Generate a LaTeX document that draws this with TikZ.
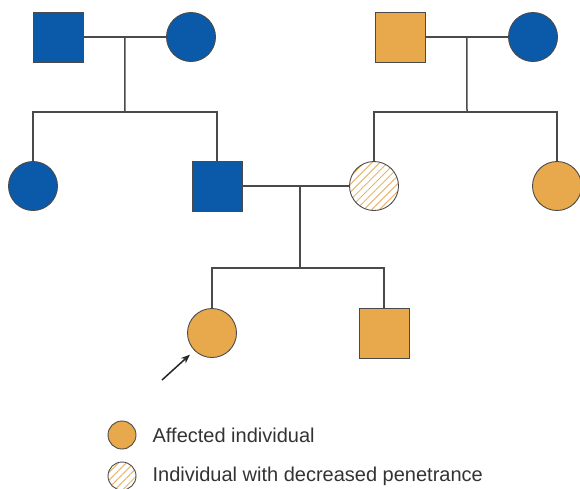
\documentclass[tikz,border=0pt]{standalone}
\usepackage{fontspec}
\setmainfont{Liberation Sans}
\usepackage{xcolor}
\usetikzlibrary{positioning,patterns.meta,arrows.meta}
\definecolor{pedblue}{HTML}{0B5AAA}
\definecolor{pedorange}{HTML}{E8A84C}
\definecolor{pedhatch}{HTML}{E9B56A}
\definecolor{pedline}{HTML}{4A4A4A}
\definecolor{pedtext}{HTML}{333333}
\tikzset{
	male/.style={rectangle,draw=pedline,line width=0.9pt,minimum size=50pt,inner sep=0pt},
	female/.style={circle,draw=pedline,line width=0.9pt,minimum size=49pt,inner sep=0pt},
	hatched/.style={pattern={Lines[angle=45,distance=5.5pt,line width=1pt]},pattern color=pedhatch},
	link/.style={draw=pedline,line width=1.5pt},
	keytext/.style={inner sep=0pt,anchor=west,text=pedtext,font=\fontsize{20}{24}\selectfont}
}
\begin{document}
\begin{tikzpicture}[x=1pt,y=-1pt]
	\useasboundingbox (0,0) rectangle (580,488);
	% grandparents
	\node[male,fill=pedblue] (gp1) at (58,37) {};
	\node[female,fill=pedblue] (gp2) at (191,37) {};
	\node[male,fill=pedorange] (gp3) at (400,37) {};
	\node[female,fill=pedblue] (gp4) at (533,37) {};
	% parents generation
	\node[female,fill=pedblue] (p1) at (33,186) {};
	\node[male,fill=pedblue] (p2) at (217,186) {};
	\node[female,hatched] (p3) at (374,186) {};
	\node[female,fill=pedorange] (p4) at (557,186) {};
	% children
	\node[female,fill=pedorange] (c1) at (212,333) {};
	\node[male,fill=pedorange] (c2) at (384,333) {};
	% sibship lines
	\coordinate (sib1) at (125,112);
	\coordinate (sib2) at (467,112);
	\coordinate (sib3) at (300,268);
	\draw[link] (gp1) -- (gp2) coordinate[midway] (u1);
	\draw[link] (u1) -- (sib1);
	\draw[link] (p1.north) |- (sib1) -| (p2.north);
	\draw[link] (gp3) -- (gp4) coordinate[midway] (u2);
	\draw[link] (u2) -- (sib2);
	\draw[link] (p3.north) |- (sib2) -| (p4.north);
	\draw[link] (p2) -- (p3);
	\draw[link] (sib3 |- p2) -- (sib3);
	\draw[link] (c1.north) |- (sib3) -| (c2.north);
	% proband
	\coordinate (ptail) at (162,380);
	\draw[line width=1.5pt,black!85,-{Stealth[length=9pt,width=7pt]},shorten >=6pt] (ptail) -- (c1.225);
	% key
	\node[circle,draw=pedline,line width=0.9pt,minimum size=28pt,inner sep=0pt,fill=pedorange] (keyA) at (122,435) {};
	\node[keytext,right=16pt of keyA.east] (keyAtext) {Affected individual};
	\node[circle,draw=pedline,line width=0.9pt,minimum size=28pt,inner sep=0pt,hatched] (keyB) at (122,476) {};
	\node[keytext,right=16pt of keyB.east] (keyBtext) {Individual with decreased penetrance};
\end{tikzpicture}
\end{document}
